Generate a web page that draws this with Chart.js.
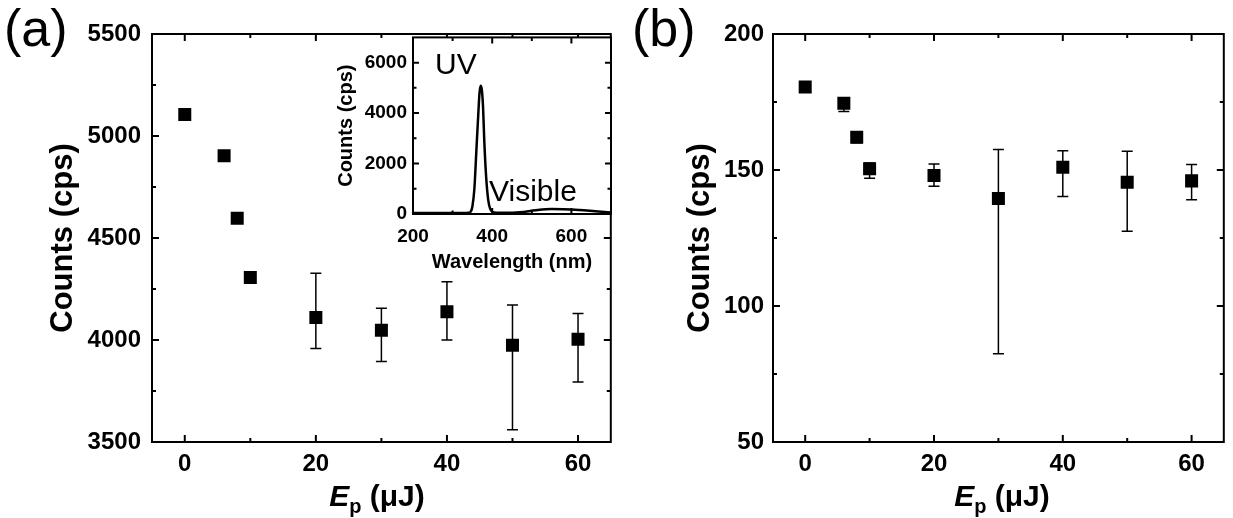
<!DOCTYPE html>
<html>
<head>
<meta charset="utf-8">
<script src="https://cdn.jsdelivr.net/npm/chart.js@4.4.0/dist/chart.umd.min.js"></script>
<style>
    body { margin: 0; background: #fff; }
    #page { position: relative; width: 1233px; height: 518px; overflow: hidden; font-family: 'Liberation Sans', Arial, sans-serif; color: #000; }
    .box { position: absolute; }
    .box canvas { display: block; }
    .label { position: absolute; line-height: 1; white-space: nowrap; }
    .panel { font-size: 52px; }
    .xtitle { font-size: 30px; font-weight: bold; width: 200px; text-align: center; }
    .xtitle sub { font-size: 20px; vertical-align: baseline; position: relative; top: 7px; }
    .note { font-size: 30px; }
</style>
</head>
<body>
<div id="page">
    <div class="box" style="left:0;top:0"><canvas id="chart-a" width="620" height="518"></canvas></div>
    <div class="box" style="left:620px;top:0"><canvas id="chart-b" width="613" height="518"></canvas></div>
    <div class="box" style="left:320px;top:20px"><canvas id="chart-inset" width="300" height="260"></canvas></div>
    <div class="label panel" style="left:4px;top:2px">(a)</div>
    <div class="label panel" style="left:632px;top:2px">(b)</div>
    <div class="label xtitle" style="left:277px;top:481px"><i>E</i><sub>p</sub> (μJ)</div>
    <div class="label xtitle" style="left:902px;top:481px"><i>E</i><sub>p</sub> (μJ)</div>
    <div class="label note" style="left:435px;top:49px">UV</div>
    <div class="label note" style="left:489px;top:176px">Visible</div>
</div>
<script>
// pulse energy (uJ)
const energy = [0, 6, 8, 10, 20, 30, 40, 50, 60];

// panel (a): counts with error bar ends
const countsA = [5105, 4903, 4597, 4306, 4110, 4048, 4139, 3974, 4004];
const lowA = [null, null, null, null, 3958, 3894, 4000, 3560, 3794];
const highA = [null, null, null, null, 4327, 4156, 4286, 4172, 4130];

// panel (b)
const countsB = [180.5, 174.5, 162, 150.5, 148, 139.5, 151, 145.5, 146];
const lowB = [null, 171.5, 160, 147, 144, 82.4, 140.3, 127.5, 139.1];
const highB = [null, 176.5, 164, 152.6, 152.2, 157.5, 157.1, 156.9, 152];

// inset spectrum
const wavelength = [200, 250, 300, 330, 340, 345, 350, 355, 360, 365, 368, 371, 374, 377, 380, 385, 390, 395, 400, 410, 430, 470, 510, 550, 580, 620, 660, 700];
const spectrum = [40, 40, 40, 40, 50, 80, 300, 1000, 2500, 4000, 4800, 5080, 4900, 4200, 2900, 1400, 550, 200, 90, 50, 50, 70, 150, 195, 190, 160, 110, 60];

// tick labels
const energyTicks = [0, 20, 40, 60];
const countTicksA = [3500, 4000, 4500, 5000, 5500];
const countTicksB = [50, 100, 150, 200];
const waveTicks = [200, 400, 600];
const spectrumTicks = [0, 2000, 4000, 6000];

Chart.defaults.font.family = "'Liberation Sans', Arial, sans-serif";
Chart.defaults.color = '#000';
Chart.defaults.animation = false;

// major ticks from the scale plus minor ticks halfway between
function tickValues(scale) {
    const major = scale.ticks.map(t => t.value);
    const step = (major[1] - major[0]) / 2;
    let v = major[0];
    while (v - step > scale.min) v -= step;
    const out = [];
    for (; v < scale.max; v += step) {
        if (v > scale.min) out.push({ value: v, major: major.includes(v) });
    }
    return out;
}

// box frame with inward ticks on all four sides
const frameTicks = {
    id: 'frameTicks',
    beforeDraw(chart, args, opts) {
        if (!opts.fill) return;
        const a = chart.chartArea;
        chart.ctx.save();
        chart.ctx.fillStyle = '#fff';
        chart.ctx.fillRect(a.left, a.top, a.right - a.left, a.bottom - a.top);
        chart.ctx.restore();
    },
    afterDraw(chart, args, opts) {
        const { ctx, chartArea: a, scales: { x, y } } = chart;
        ctx.save();
        ctx.strokeStyle = '#000';
        ctx.lineWidth = 2;
        ctx.strokeRect(a.left, a.top, a.right - a.left, a.bottom - a.top);
        ctx.beginPath();
        tickValues(x).forEach(t => {
            const px = x.getPixelForValue(t.value);
            const len = t.major ? opts.major : opts.minor;
            ctx.moveTo(px, a.bottom);
            ctx.lineTo(px, a.bottom - len);
            ctx.moveTo(px, a.top);
            ctx.lineTo(px, a.top + len);
        });
        tickValues(y).forEach(t => {
            const py = y.getPixelForValue(t.value);
            const len = t.major ? opts.major : opts.minor;
            ctx.moveTo(a.left, py);
            ctx.lineTo(a.left + len, py);
            ctx.moveTo(a.right, py);
            ctx.lineTo(a.right - len, py);
        });
        ctx.stroke();
        ctx.restore();
    }
};

const errorBars = {
    id: 'errorBars',
    beforeDatasetsDraw(chart, args, opts) {
        if (!opts.low) return;
        const { ctx, scales: { x, y } } = chart;
        ctx.save();
        ctx.strokeStyle = '#000';
        ctx.lineWidth = 1.5;
        ctx.beginPath();
        energy.forEach((e, i) => {
            if (opts.low[i] == null) return;
            const px = x.getPixelForValue(e);
            const y1 = y.getPixelForValue(opts.low[i]);
            const y2 = y.getPixelForValue(opts.high[i]);
            ctx.moveTo(px, y1);
            ctx.lineTo(px, y2);
            ctx.moveTo(px - 5.5, y1);
            ctx.lineTo(px + 5.5, y1);
            ctx.moveTo(px - 5.5, y2);
            ctx.lineTo(px + 5.5, y2);
        });
        ctx.stroke();
        ctx.restore();
    }
};

function plainLabel(v) {
    return String(v);
}

const noGrid = { display: false, drawTicks: false };

function makePanel(id, counts, low, high, yMin, yMax, yTicks, titlePad, labelPad) {
    new Chart(document.getElementById(id), {
        type: 'scatter',
        data: {
            datasets: [{
                data: energy.map((e, i) => ({ x: e, y: counts[i] })),
                pointStyle: 'rect',
                pointRadius: 9.2,
                backgroundColor: '#000',
                borderWidth: 0
            }]
        },
        options: {
            responsive: false,
            events: [],
            layout: { padding: { top: 34, right: id === 'chart-a' ? 9 : 1, left: 0, bottom: 0 } },
            plugins: {
                legend: { display: false },
                tooltip: { enabled: false },
                frameTicks: { major: 7, minor: 4 },
                errorBars: { low: low, high: high }
            },
            scales: {
                x: {
                    type: 'linear',
                    min: -5,
                    max: 65,
                    afterBuildTicks: s => { s.ticks = energyTicks.map(v => ({ value: v })); },
                    afterFit: s => { s.height = 76; },
                    grid: noGrid,
                    border: { display: false },
                    ticks: { font: { size: 24, weight: 'bold' }, padding: 8, maxRotation: 0, autoSkip: false, callback: plainLabel }
                },
                y: {
                    min: yMin,
                    max: yMax,
                    afterBuildTicks: s => { s.ticks = yTicks.map(v => ({ value: v })); },
                    afterFit: s => { s.width = id === 'chart-a' ? 152 : 153; },
                    grid: noGrid,
                    border: { display: false },
                    ticks: { font: { size: 24, weight: 'bold' }, padding: labelPad, autoSkip: false, callback: plainLabel },
                    title: {
                        display: true,
                        text: 'Counts (cps)',
                        font: { size: 31, weight: 'bold' },
                        padding: { top: titlePad, bottom: 0 }
                    }
                }
            }
        },
        plugins: [frameTicks, errorBars]
    });
}

makePanel('chart-a', countsA, lowA, highA, 3500, 5500, countTicksA, 45, 11);
makePanel('chart-b', countsB, lowB, highB, 50, 200, countTicksB, 62, 9);

// inset spectrum
new Chart(document.getElementById('chart-inset'), {
    type: 'line',
    data: {
        datasets: [{
            data: wavelength.map((w, i) => ({ x: w, y: spectrum[i] })),
            borderColor: '#000',
            borderWidth: 2.5,
            pointRadius: 0,
            cubicInterpolationMode: 'monotone',
            fill: false
        }]
    },
    options: {
        responsive: false,
        events: [],
        layout: { padding: { top: 14, right: 9, left: 0, bottom: 0 } },
        plugins: {
            legend: { display: false },
            tooltip: { enabled: false },
            frameTicks: { major: 6, minor: 3.5, fill: true }
        },
        scales: {
            x: {
                type: 'linear',
                min: 200,
                max: 700,
                afterBuildTicks: s => { s.ticks = waveTicks.map(v => ({ value: v })); },
                afterFit: s => { s.height = 66; },
                grid: noGrid,
                border: { display: false },
                ticks: { font: { size: 19, weight: 'bold' }, padding: 11, maxRotation: 0, autoSkip: false, callback: plainLabel },
                title: {
                    display: true,
                    text: 'Wavelength (nm)',
                    font: { size: 20, weight: 'bold' },
                    padding: { top: 0, bottom: 6 }
                }
            },
            y: {
                min: 0,
                max: 7000,
                afterBuildTicks: s => { s.ticks = spectrumTicks.map(v => ({ value: v })); },
                afterFit: s => { s.width = 93; },
                grid: noGrid,
                border: { display: false },
                ticks: { font: { size: 19, weight: 'bold' }, padding: 6, autoSkip: false, callback: plainLabel },
                title: {
                    display: true,
                    text: 'Counts (cps)',
                    font: { size: 20, weight: 'bold' },
                    padding: { top: 14, bottom: 0 }
                }
            }
        }
    },
    plugins: [frameTicks]
});
</script>
</body>
</html>
